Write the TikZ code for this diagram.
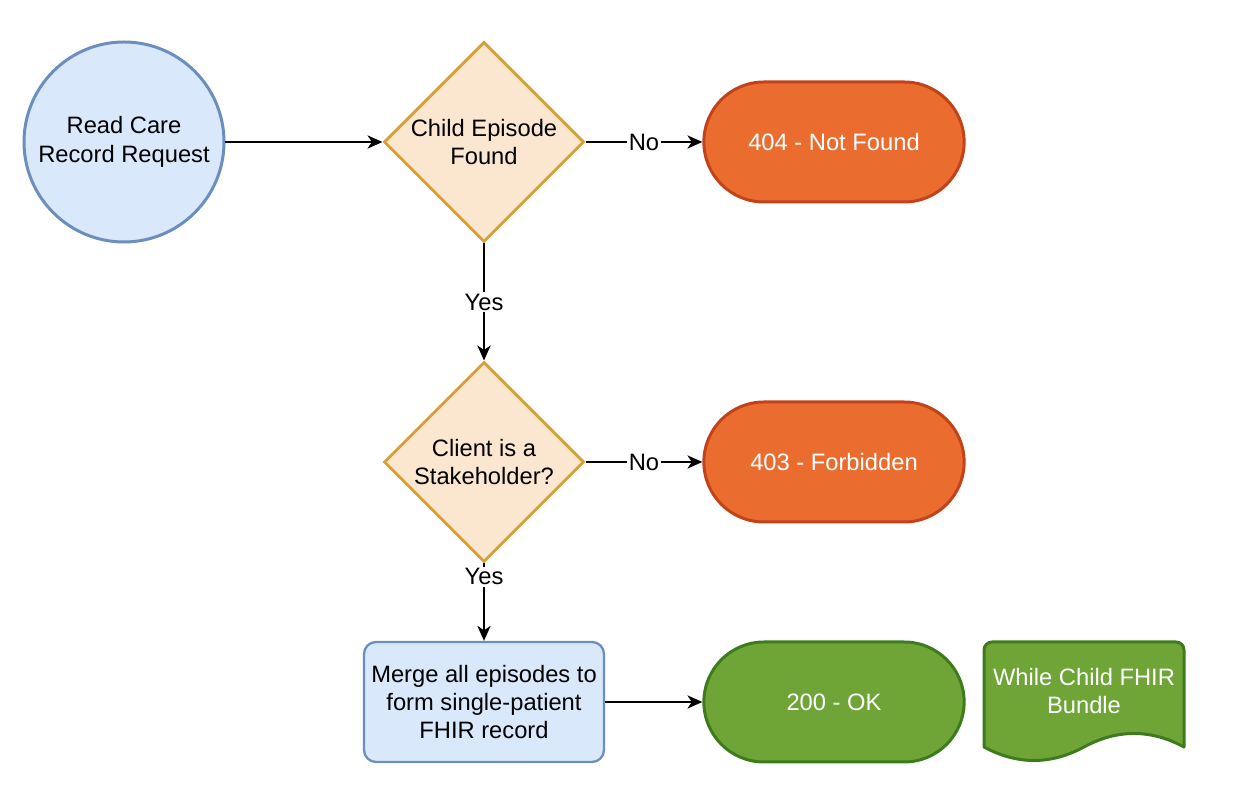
\documentclass[tikz,border=0pt]{standalone}
\usepackage{fontspec}
\setmainfont{Liberation Sans}
\usepackage{xcolor}
\usepackage{tikz}
\usetikzlibrary{shapes.geometric, shapes.misc, arrows.meta}
\definecolor{bluefill}{HTML}{DAE8FC}
\definecolor{blueline}{HTML}{6C8EBF}
\definecolor{peachfill}{HTML}{FBE6CF}
\definecolor{peachline}{HTML}{D6A13A}
\definecolor{errfill}{HTML}{EA6D2F}
\definecolor{errline}{HTML}{C2421A}
\definecolor{okfill}{HTML}{6FA537}
\definecolor{okline}{HTML}{3E7B1F}

\begin{document}
\begin{tikzpicture}[
    font=\fontsize{13.5pt}{16.2pt}\selectfont,
    >={Stealth[length=8.5pt, width=7.5pt, inset=2.5pt]},
    request/.style={circle, draw=blueline, fill=bluefill, line width=1.7pt, minimum size=4cm, inner sep=0pt, align=center},
    decision/.style={diamond, draw=peachline, fill=peachfill, line width=1.7pt, minimum size=4cm, inner sep=0pt, align=center},
    process/.style={rectangle, rounded corners=0.24cm, draw=blueline, fill=bluefill, line width=1.3pt, minimum width=4.8cm, minimum height=2.4cm, align=center},
    terminal/.style={rounded rectangle, line width=1.7pt, minimum width=5.44cm, minimum height=2.4cm, text=white, align=center},
    errorend/.style={terminal, draw=errline, fill=errfill},
    okend/.style={terminal, draw=okline, fill=okfill},
    flow/.style={->, line width=1.1pt},
    edgelabel/.style={fill=white, inner sep=1pt},
]
\useasboundingbox (0,0) rectangle (24.88,16);

% Nodes
\node[request] (request) at (2.48,13.16) {Read Care\\Record Request};

\node[decision] (found) at (9.68,13.16) {Child Episode\\Found};

\node[errorend] (notfound) at (16.68,13.16) {404 - Not Found};

\node[decision] (stakeholder) at (9.68,6.76) {Client is a\\Stakeholder?};

\node[errorend] (forbidden) at (16.68,6.76) {403 - Forbidden};

\node[process] (merge) at (9.68,1.96) {Merge all episodes to\\form single-patient\\FHIR record};

\node[okend] (ok) at (16.68,1.96) {200 - OK};

% Bundle document
\draw[draw=okline, fill=okfill, line width=1.7pt, line join=round]
    (19.68,1.06) [rounded corners=0.16cm] -- (19.68,3.16) -- (23.68,3.16) -- (23.68,2.4)
    [sharp corners] -- (23.68,1.06)
    .. controls (23.013,1.42) and (22.347,1.42) .. (21.68,1.06)
    .. controls (21.013,0.70) and (20.347,0.70) .. (19.68,1.06) -- cycle;
\node[text=white, align=center] (bundle) at (21.68,2.18) {While Child FHIR\\Bundle};

% Edges
\draw[flow] (request) -- (found);
\draw[flow] (found) -- node[edgelabel] {No} (notfound);
\draw[flow] (found) -- node[edgelabel] {Yes} (stakeholder);
\draw[flow] (stakeholder) -- node[edgelabel] {No} (forbidden);
\draw[flow] (stakeholder) -- node[edgelabel, pos=0.17] {Yes} (merge);
\draw[flow] (merge) -- (ok);

\end{tikzpicture}
\end{document}
